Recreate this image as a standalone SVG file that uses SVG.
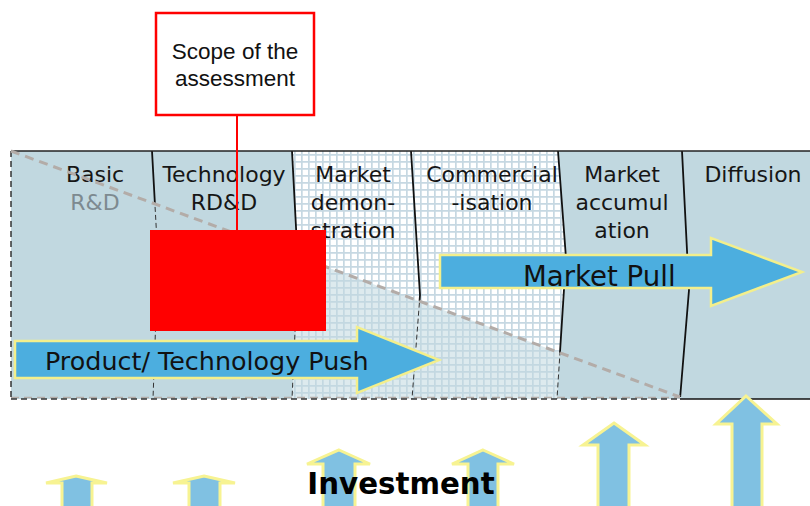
<svg xmlns="http://www.w3.org/2000/svg" width="810" height="506" viewBox="0 0 810 506">
<defs>
<pattern id="hatch" width="7" height="7" patternUnits="userSpaceOnUse">
<rect width="7" height="7" fill="#ffffff"/>
<path d="M0 0.8H7M0.8 0V7" stroke="#c6d8e2" stroke-width="1.8" fill="none"/>
</pattern>
<clipPath id="above"><polygon points="0,0 810,0 810,397 680,397 11,151 0,151"/></clipPath>
<clipPath id="below"><polygon points="0,151 11,151 680,397 680,506 0,506"/></clipPath>
<style>
.lbl{font-family:"DejaVu Sans",Verdana,sans-serif;font-size:22px;fill:#161616;text-anchor:middle}
.div{fill:none;stroke:#111;stroke-width:1.8}
.divd{fill:none;stroke:#333;stroke-width:1;stroke-dasharray:5 3}
.big{fill:#4caedf;stroke:#f3ef8c;stroke-width:2.5}
.up{fill:#80c1e2;stroke:#f7f392;stroke-width:3}
.arrtxt{font-family:"DejaVu Sans",Verdana,sans-serif;fill:#111}
</style>
</defs>
<rect width="810" height="506" fill="#ffffff"/>
<g id="band">
<rect x="11" y="151" width="799" height="248" fill="#c1d8e0"/>
<polygon points="292,151 558,151 566,258 557,399 292,399 298,265" fill="url(#hatch)"/>
<polygon points="11,151 680,397 680,399 11,399" fill="#c1d8e0" fill-opacity="0.55"/>
</g>
<g id="dividers">
<g clip-path="url(#above)">
<path class="div" d="M152 151L158 260L153 399M292 151L298 265L292 399M411 151L420 295L412 399M558 151L566 258L557 399M682 151L689 290L680 399"/>
</g>
<g clip-path="url(#below)">
<path class="divd" d="M152 151L158 260L153 399M292 151L298 265L292 399M411 151L420 295L412 399M558 151L566 258L557 399"/>
</g>
<line x1="11" y1="151" x2="810" y2="151" stroke="#222" stroke-width="1.6"/>
<line x1="680" y1="399" x2="810" y2="399" stroke="#111" stroke-width="1.6"/>
<line x1="11" y1="397.5" x2="680" y2="397.5" stroke="#b3aca8" stroke-width="1.5" stroke-dasharray="8 5"/>
<line x1="11" y1="399" x2="680" y2="399" stroke="#333" stroke-width="1.5" stroke-dasharray="6 4"/>
<line x1="11" y1="151" x2="11" y2="399" stroke="#333" stroke-width="1.5" stroke-dasharray="6 4"/>
</g>
<g id="col-basic"><text class="lbl" x="95" y="182">Basic</text><text class="lbl" x="95" y="210" style="fill:#7d8a90">R&amp;D</text></g>
<g id="col-tech"><text class="lbl" x="224" y="182">Technology</text><text class="lbl" x="224" y="210">RD&amp;D</text></g>
<g id="col-demo"><text class="lbl" x="353" y="182">Market</text><text class="lbl" x="353" y="210">demon-</text><text class="lbl" x="353" y="238">stration</text></g>
<g id="col-comm"><text class="lbl" x="492" y="182">Commercial</text><text class="lbl" x="492" y="210">-isation</text></g>
<g id="col-accum"><text class="lbl" x="622" y="182">Market</text><text class="lbl" x="622" y="210">accumul</text><text class="lbl" x="622" y="238">ation</text></g>
<g id="col-diff"><text class="lbl" x="753" y="182">Diffusion</text></g>
<line id="diagonal" x1="11" y1="151" x2="680" y2="397" stroke="#b3aca8" stroke-width="3" stroke-dasharray="9 6"/>
<g id="scope-area"><rect x="150" y="230" width="176" height="101" fill="#ff0000"/></g>
<g id="connectors"><line x1="237" y1="115" x2="237" y2="231" stroke="#ff0000" stroke-width="2"/></g>
<g id="scope-box">
<rect x="156" y="13" width="158" height="102" fill="#ffffff" stroke="#ff0000" stroke-width="2.5"/>
<text x="235" y="59" font-family="'Liberation Sans',Arial,sans-serif" font-size="22.5" text-anchor="middle" fill="#111">Scope of the</text>
<text x="235" y="86" font-family="'Liberation Sans',Arial,sans-serif" font-size="22.5" text-anchor="middle" fill="#111">assessment</text>
</g>
<g id="push">
<polygon class="big" points="15,341 357,341 357,327 439,360 357,393 357,378 15,378"/>
<text class="arrtxt" x="45" y="370" font-size="25.4">Product/ Technology Push</text>
</g>
<g id="pull">
<polygon class="big" points="440,255 711,255 711,238 802,272 711,306 711,288 440,288"/>
<text class="arrtxt" x="523" y="286" font-size="27.6">Market Pull</text>
</g>
<g id="investment">
<polygon class="up" points="76,476 107,483 92,483 92,510 62,510 62,483 46,483"/>
<polygon class="up" points="204,476 235,483 220,483 220,510 189,510 189,483 173,483"/>
<polygon class="up" points="339,450 370,464 355,464 355,510 323,510 323,464 307,464"/>
<polygon class="up" points="483,450 514,464 498,464 498,510 468,510 468,464 452,464"/>
<polygon class="up" points="614,423 645,445 629,445 629,510 598,510 598,445 583,445"/>
<polygon class="up" points="746,396 777,424 762,424 762,510 732,510 732,424 716,424"/>
<text x="401" y="494" font-family="'DejaVu Sans',Verdana,sans-serif" font-weight="bold" font-size="29.3" text-anchor="middle" fill="#000">Investment</text>
</g>
</svg>
